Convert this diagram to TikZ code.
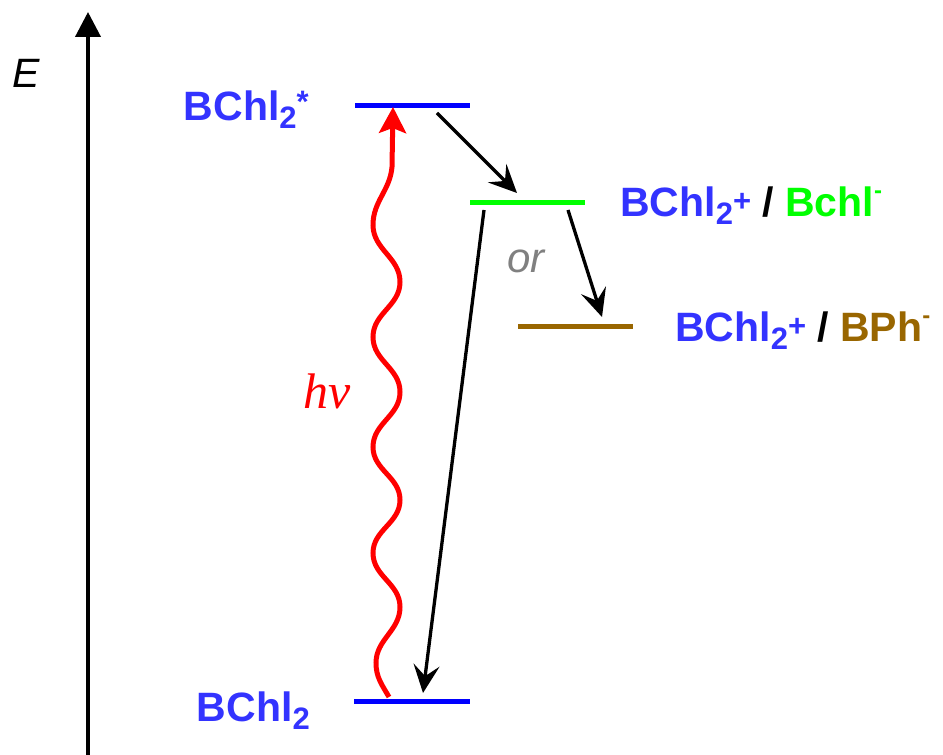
\documentclass[tikz,border=0pt]{standalone}
\usepackage{fontspec}
\setmainfont{Liberation Sans}
\newfontfamily\serifit{Liberation Serif}
\usetikzlibrary{arrows.meta}
\definecolor{txtblue}{RGB}{51,51,255}
\definecolor{lvlblue}{RGB}{0,0,255}
\definecolor{lvlgreen}{RGB}{0,255,0}
\definecolor{lvlbrown}{RGB}{153,102,0}
\definecolor{orgray}{RGB}{128,128,128}
\newcommand\lsub[1]{\raisebox{-8pt}{\fontsize{31}{31}\selectfont #1}}
\newcommand\lsup[2][5pt]{\raisebox{#1}{\fontsize{31}{31}\selectfont #2}}
\newcommand\lminus{\raisebox{18pt}{\fontsize{24}{24}\selectfont -}}
\begin{document}
\begin{tikzpicture}[x=1pt,y=1pt,
  lab/.style={inner sep=0pt,font=\fontsize{41}{41}\selectfont\bfseries},
  level/.style={line width=5pt},
  trans/.style={line width=3.3pt,-{Stealth[length=28pt,width=26pt,inset=11pt]}},
  photon/.style={red,line width=5pt,-{Stealth[length=26pt,width=27pt,inset=5pt]}}]
\useasboundingbox (0,0) rectangle (943,755);
% axis
\coordinate (ax0) at (88,0);
\coordinate (ax1) at (88,743);
\draw[line width=4pt,-{Triangle[length=25pt,width=25pt]}] (ax0) -- (ax1);
\node[inner sep=0pt,font=\fontsize{41}{41}\selectfont\itshape,anchor=base] (E) at (26,667) {E};
% levels
\coordinate (s1a) at (355,649); \coordinate (s1b) at (470,649);
\coordinate (gra) at (470,552); \coordinate (grb) at (585,552);
\coordinate (bra) at (518,428); \coordinate (brb) at (633,428);
\coordinate (s0a) at (354,53);  \coordinate (s0b) at (470,53);
\draw[level,lvlblue] (s1a) -- (s1b);
\draw[level,lvlgreen] (gra) -- (grb);
\draw[level,lvlbrown] (bra) -- (brb);
\draw[level,lvlblue] (s0a) -- (s0b);
% labels
\node[lab,txtblue,anchor=base east] (ls1) at (309,634) {BChl\lsub{2}\lsup[8pt]{*}};
\node[lab,anchor=base west] (lgr) at (620,538) {\textcolor{txtblue}{BChl\lsub{2}\lsup{+}} / \textcolor{lvlgreen}{Bchl\lminus}};
\node[lab,anchor=base west] (lbr) at (675,413) {\textcolor{txtblue}{BChl\lsub{2}\lsup{+}} / \textcolor{lvlbrown}{BPh\lminus}};
\node[lab,txtblue,anchor=base east] (ls0) at (310,33) {BChl\lsub{2}};
\node[inner sep=0pt,orgray,font=\fontsize{42}{42}\selectfont\itshape,anchor=base west] (or) at (507,482) {or};
\node[inner sep=0pt,red,font=\fontsize{50}{50}\selectfont\serifit\itshape,anchor=base west] (hv) at (303,346) {hν};
% transitions
\coordinate (t1a) at (437,642); \coordinate (t1b) at (517,562);
\coordinate (t2a) at (568,545); \coordinate (t2b) at (602,438);
\coordinate (t3a) at (484,545); \coordinate (t3b) at (423,62);
\draw[trans] (t1a) -- (t1b);
\draw[trans] (t2a) -- (t2b);
\draw[trans] (t3a) -- (t3b);
% photon
\coordinate (p0) at (389,58);
\coordinate (p1) at (393,648);
\draw[photon] (p0) to[out=120,in=-90] (376,92) to[out=90,in=-90] (400,148)
  to[out=90,in=-90] (373,202) to[out=90,in=-90] (400,255)
  to[out=90,in=-90] (373,308) to[out=90,in=-90] (400,363)
  to[out=90,in=-90] (373,418) to[out=90,in=-90] (400,473)
  to[out=90,in=-90] (373,530) to[out=90,in=-95] (392,588) -- (p1);
\end{tikzpicture}
\end{document}
